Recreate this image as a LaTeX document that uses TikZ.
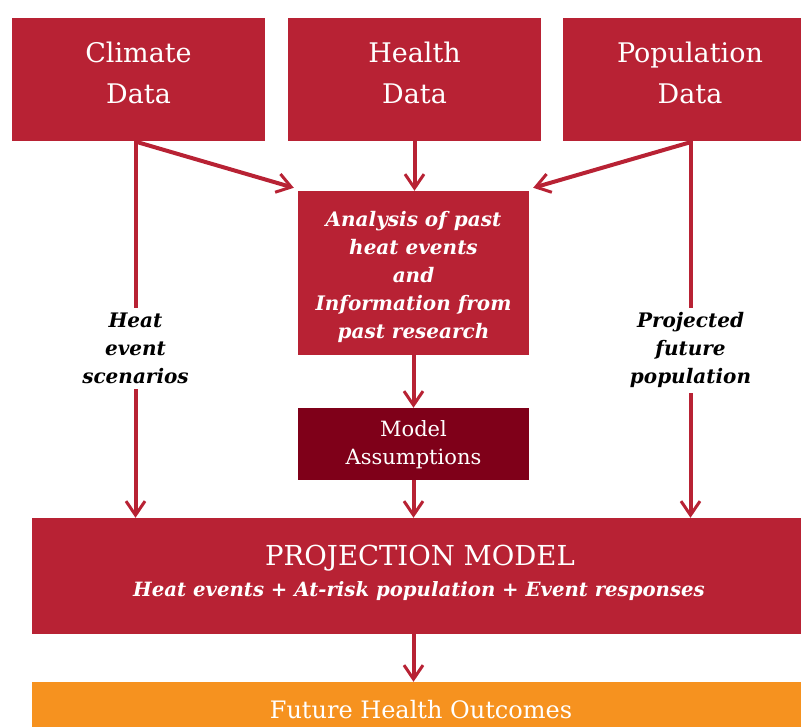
\documentclass[tikz,border=0pt]{standalone}
\usepackage{fontspec}
\setmainfont{DejaVu Serif}
\usetikzlibrary{arrows.meta,calc}
\definecolor{cred}{HTML}{B82234}
\definecolor{cdark}{HTML}{7F0019}
\definecolor{corange}{HTML}{F6921F}
\tikzset{
  box/.style={fill=cred, inner sep=0pt},
  txt/.style={text=white, align=center, inner sep=0pt},
  conn/.style={draw=cred, line width=4pt, -{Straight Barb[length=14pt,width=19pt,line width=3pt]}},
  lab/.style={fill=white, text=black, align=center, font=\fontsize{20}{28}\selectfont\bfseries\itshape, inner sep=5pt}
}
\begin{document}
\begin{tikzpicture}[x=1pt,y=-1pt]
\useasboundingbox (0,0) rectangle (801,727);
\node[box, minimum width=253pt, minimum height=123pt] (clim) at (138.5,79.5) {};
\node[box, minimum width=253pt, minimum height=123pt] (hlth) at (414.5,79.5) {};
\node[box, minimum width=253pt, minimum height=123pt] (popu) at (689.5,79.5) {};
\node[box, minimum width=231pt, minimum height=164pt] (ana) at (413.5,273) {};
\node[box, fill=cdark, minimum width=231pt, minimum height=72pt] (mod) at (413.5,444) {};
\node[box, minimum width=784pt, minimum height=116pt] (proj) at (424,576) {};
\node[box, fill=corange, minimum width=784pt, minimum height=56pt] (fut) at (424,710) {};
\node[txt, font=\fontsize{27}{41}\selectfont] (climt) at (138.5,73) {Climate\\Data};
\node[txt, font=\fontsize{27}{41}\selectfont] (hlttt) at (414.5,73) {Health\\Data};
\node[txt, font=\fontsize{27}{41}\selectfont] (popt) at (690,73) {Population\\Data};
\node[txt, font=\fontsize{20}{28}\selectfont\bfseries\itshape] (anat) at (413.5,277) {Analysis of past\\heat events\\and\\Information from\\past research};
\node[txt, font=\fontsize{21}{28}\selectfont] (modt) at (413.5,445) {Model\\Assumptions};
\node[txt, font=\fontsize{27.5}{30}\selectfont] (projt) at (420,558) {PROJECTION MODEL};
\node[txt, font=\fontsize{19.7}{24}\selectfont\bfseries\itshape] (projs) at (419,591) {Heat events + At-risk population + Event responses};
\node[txt, font=\fontsize{24}{26}\selectfont] (futt) at (421,710) {Future Health Outcomes};
\coordinate (cs) at ($(clim.south)+(-3,0)$);
\coordinate (ps) at ($(popu.south)+(1,0)$);
\draw[conn] (cs) -- (cs |- proj.north) node[lab, pos=0.55] (hes) {Heat\\event\\scenarios};
\draw[conn] (ps) -- (ps |- proj.north) node[lab, pos=0.555] (pfp) {Projected\\future\\population};
\draw[conn] ($(clim.south)+(-1,1)$) -- ($(ana.north west)+(-4,-3)$);
\draw[conn] ($(popu.south)+(1,1)$) -- ($(ana.north east)+(4,-3)$);
\draw[conn] (hlth.south) -- (hlth.south |- ana.north);
\draw[conn] (ana.south) -- (mod.north);
\draw[conn] (mod.south) -- (mod.south |- proj.north);
\draw[conn] (proj.south -| mod.south) -- (mod.south |- fut.north);
\end{tikzpicture}
\end{document}
